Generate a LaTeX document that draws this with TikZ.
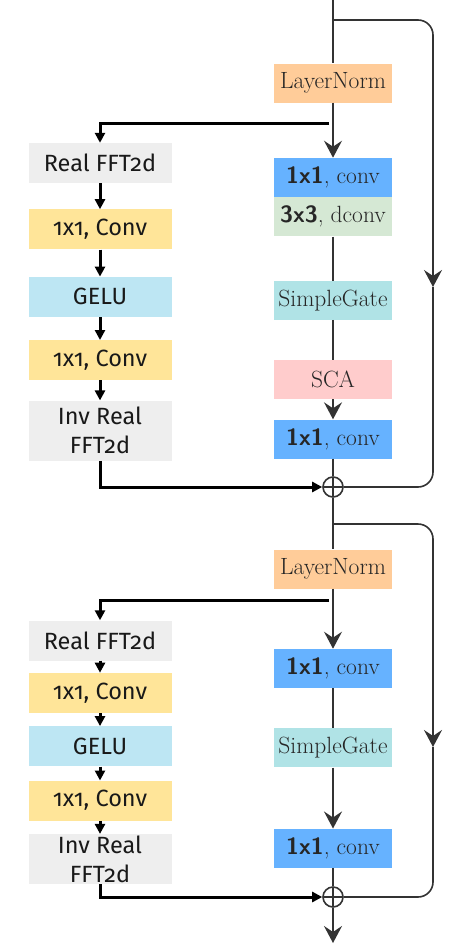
\documentclass[tikz,border=0pt]{standalone}
\usepackage{fontspec}
\usepackage{xcolor}
\usepackage{tikz}
\usetikzlibrary{positioning,arrows.meta}
\newfontfamily\leftfont{Fira Sans}[Numbers=OldStyle]
\definecolor{normfill}{HTML}{FFCC99}
\definecolor{convfill}{HTML}{66B2FF}
\definecolor{dconvfill}{HTML}{D5E8D4}
\definecolor{gatefill}{HTML}{B0E3E6}
\definecolor{scafill}{HTML}{FFCCCC}
\definecolor{fftfill}{HTML}{EEEEEE}
\definecolor{kconvfill}{HTML}{FFE599}
\definecolor{gelufill}{HTML}{BDE6F3}
\newcommand{\convlabel}[1]{{\sffamily\bfseries #1}, conv}
\tikzset{
  right box/.style={
    fill=#1,
    minimum width=118pt,
    minimum height=39pt,
    inner sep=0pt,
    text=black!85,
    font=\fontsize{23.5}{27}\selectfont,
  },
  left box/.style={
    fill=#1,
    minimum width=143pt,
    minimum height=40pt,
    inner sep=0pt,
    align=center,
    text=black!90,
    font=\leftfont\fontsize{23.5}{29}\selectfont,
  },
  flow/.style={
    draw=black!80,
    line width=1.6pt,
    -{Stealth[length=17pt,width=18pt,inset=6pt]},
  },
  plain flow/.style={
    draw=black!80,
    line width=1.6pt,
  },
  branch/.style={
    draw=black,
    line width=3pt,
    -{Triangle[length=10pt,width=10pt]},
  },
  plus/.style={
    circle,
    draw=black!80,
    line width=1.6pt,
    minimum size=20pt,
    inner sep=0pt,
    path picture={
      \draw[black!80, line width=1.6pt]
        (path picture bounding box.north) -- (path picture bounding box.south)
        (path picture bounding box.west) -- (path picture bounding box.east);
    },
  },
}
\begin{document}
\begin{tikzpicture}[x=1pt,y=-1pt]
    \useasboundingbox (0,0) rectangle (457,945);

    % first block
    \node [right box=normfill] (ln1) at (333,83) {LayerNorm};
    \node [right box=convfill, below=55pt of ln1] (c1a) {\convlabel{1x1}};
    \node [right box=dconvfill, below=0pt of c1a] (dc1) {{\sffamily\bfseries 3x3}, dconv};
    \node [right box=gatefill, below=44pt of dc1] (sg1) {SimpleGate};
    \node [right box=scafill, below=40pt of sg1] (sca1) {SCA};
    \node [right box=convfill, below=20pt of sca1] (c1b) {\convlabel{1x1}};
    \node [plus] (plus1) at (333,487) {};

    \node [left box=fftfill] (f1) at (100,163) {Real FFT2d};
    \node [left box=kconvfill, below=26pt of f1] (k1) {1x1, Conv};
    \node [left box=gelufill, below=27pt of k1] (g1) {GELU};
    \node [left box=kconvfill, below=23pt of g1] (k2) {1x1, Conv};
    \node [left box=fftfill, minimum height=60pt, below=20pt of k2] (i1) {Inv Real\\FFT2d};

    % second block
    \node [right box=normfill] (ln2) at (333,569) {LayerNorm};
    \node [right box=convfill, below=60pt of ln2] (c2a) {\convlabel{1x1}};
    \node [right box=gatefill, below=40pt of c2a] (sg2) {SimpleGate};
    \node [right box=convfill, below=61pt of sg2] (c2b) {\convlabel{1x1}};
    \node [plus] (plus2) at (333,897) {};

    \node [left box=fftfill] (f2) at (100,640.5) {Real FFT2d};
    \node [left box=kconvfill, below=12pt of f2] (k3) {1x1, Conv};
    \node [left box=gelufill, below=13pt of k3] (g2) {GELU};
    \node [left box=kconvfill, below=14pt of g2] (k4) {1x1, Conv};
    \node [left box=fftfill, minimum height=50pt, below=13pt of k4] (i2) {Inv Real\\FFT2d};

    \coordinate (top) at (333,0);
    \coordinate (s1) at (333,20);
    \coordinate (r1) at (433,287);
    \coordinate (b1) at (329,123);
    \coordinate (s2) at (333,524);
    \coordinate (r2) at (433,747);
    \coordinate (b2) at (329,600);
    \coordinate (out) at (333,943);

    % main path
    \draw [plain flow] (top) -- (ln1);
    \draw [flow] (ln1) -- (c1a);
    \draw [plain flow] (dc1) -- (sg1);
    \draw [plain flow] (sg1) -- (sca1);
    \draw [flow] (sca1) -- (c1b);
    \draw [plain flow] (c1b) -- (plus1);
    \draw [plain flow] (plus1) -- (ln2);
    \draw [flow] (ln2) -- (c2a);
    \draw [plain flow] (c2a) -- (sg2);
    \draw [flow] (sg2) -- (c2b);
    \draw [plain flow] (c2b) -- (plus2);
    \draw [flow] (plus2) -- (out);

    % skip connections
    \draw [flow, rounded corners=15pt] (s1) -| (r1);
    \draw [plain flow, rounded corners=15pt] (r1) |- (plus1);
    \draw [flow, rounded corners=15pt] (s2) -| (r2);
    \draw [plain flow, rounded corners=15pt] (r2) |- (plus2);

    % frequency branches
    \draw [branch] (b1) -| (f1);
    \draw [branch] (f1) -- (k1);
    \draw [branch] (k1) -- (g1);
    \draw [branch] (g1) -- (k2);
    \draw [branch] (k2) -- (i1);
    \draw [branch] (i1) |- (plus1);

    \draw [branch] (b2) -| (f2);
    \draw [branch] (f2) -- (k3);
    \draw [branch] (k3) -- (g2);
    \draw [branch] (g2) -- (k4);
    \draw [branch] (k4) -- (i2);
    \draw [branch] (i2) |- (plus2);
\end{tikzpicture}
\end{document}
